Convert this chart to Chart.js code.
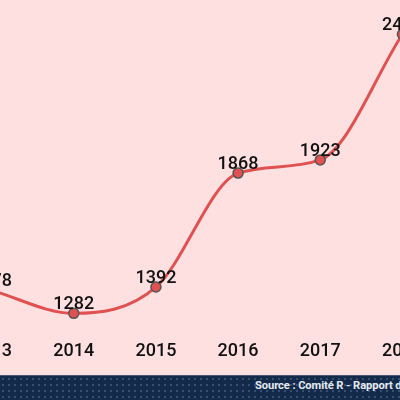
<!DOCTYPE html>
<html>
<head>
<meta charset="utf-8">
<script src="https://cdn.jsdelivr.net/npm/chart.js@4.4.1/dist/chart.umd.min.js"></script>
<style>
  html, body { margin: 0; padding: 0; }
  #frame { position: relative; width: 400px; height: 400px; overflow: hidden; background: #ffe0e0; }
  #wrap { position: absolute; left: -56.5px; top: 0; width: 506px; height: 365px; }
  #band {
    position: absolute; left: 0; top: 375px; width: 400px; height: 25px;
    background-color: #132a4b;
    background-image: radial-gradient(circle, rgba(120,150,190,0.35) 0.8px, transparent 1.2px);
    background-size: 6px 6px;
    border-top: 1px solid #4b5672;
    box-sizing: border-box;
  }
  #source {
    position: absolute; left: 255px; top: 3px; white-space: nowrap;
    font: bold 11.2px Roboto, sans-serif; letter-spacing: -0.1px; color: #e6ebf2;
  }
</style>
</head>
<body>
<div id="frame">
  <div id="wrap"><canvas id="members-chart"></canvas></div>
  <div id="band"><span id="source">Source : Comité R - Rapport d'activité 2018</span></div>
</div>
<script>
const years = ['2013', '2014', '2015', '2016', '2017', '2018'];
const members = [1378, 1282, 1392, 1868, 1923, 2448];

let ctx = document.getElementById('members-chart').getContext('2d');

// writes each value just above its point
const valueLabels = {
    id: 'valueLabels',
    afterDatasetsDraw(chart) {
        const c = chart.ctx;
        const meta = chart.getDatasetMeta(0);
        c.save();
        c.font = '500 18px Roboto';
        c.fillStyle = '#111111';
        c.textAlign = 'center';
        c.textBaseline = 'alphabetic';
        meta.data.forEach(function (pt, i) {
            c.fillText(members[i], pt.x, pt.y - 4);
        });
        c.restore();
    }
};

new Chart(ctx, {
    type: 'line',
    data: {
        labels: years,
        datasets: [{
            data: members,
            borderColor: '#e05252',
            borderWidth: 3,
            cubicInterpolationMode: 'monotone',
            pointRadius: 5,
            pointBackgroundColor: '#e05252',
            pointBorderColor: '#555555',
            pointBorderWidth: 1.5,
            clip: false
        }]
    },
    options: {
        responsive: true,
        maintainAspectRatio: false,
        animation: false,
        layout: { padding: 0 },
        plugins: {
            legend: { display: false },
            tooltip: { enabled: false }
        },
        scales: {
            x: {
                offset: true,
                grid: { display: false },
                border: { display: false },
                ticks: { color: '#111111', font: { family: 'Roboto', size: 18, weight: '500' }, padding: 3 }
            },
            y: {
                display: false,
                min: 1215,
                max: 2564
            }
        }
    },
    plugins: [valueLabels]
});
</script>
</body>
</html>
